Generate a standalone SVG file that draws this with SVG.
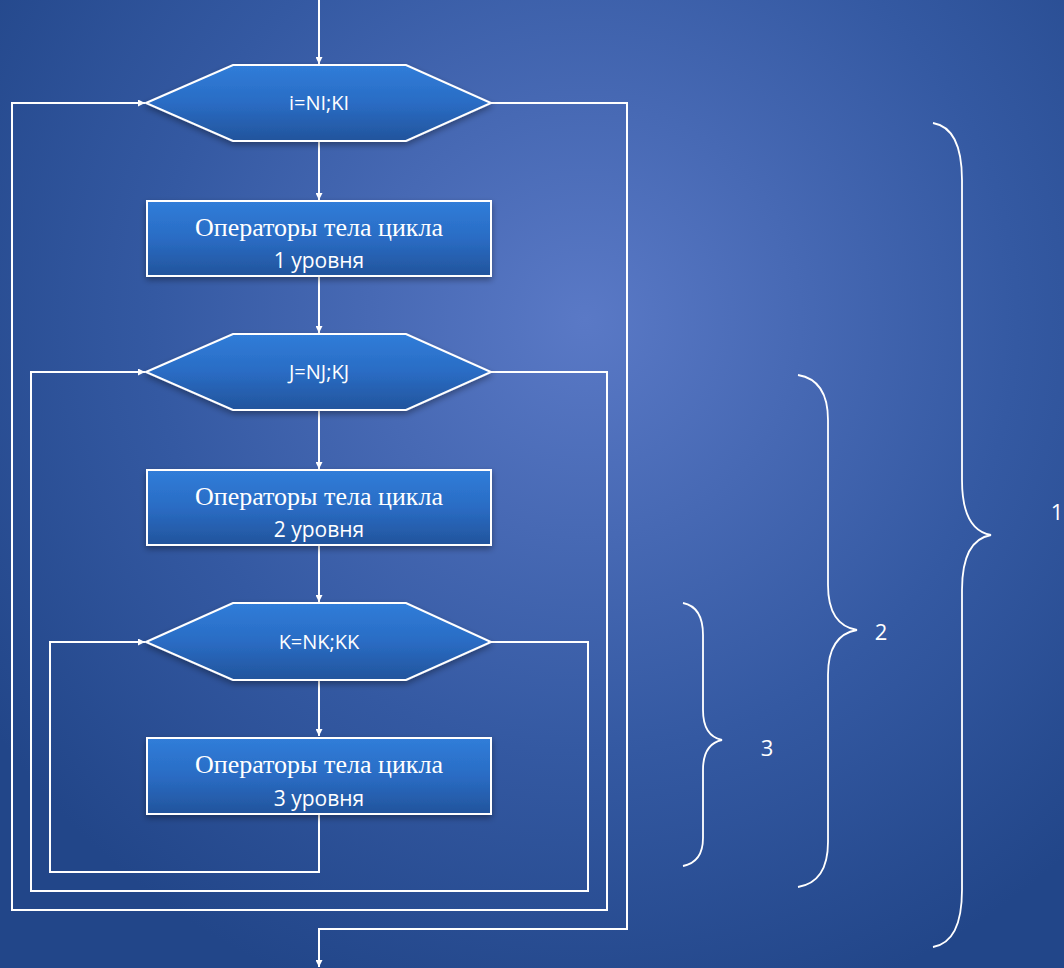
<svg xmlns="http://www.w3.org/2000/svg" width="1064" height="968" viewBox="0 0 1064 968">
<defs>
<radialGradient id="bg" cx="585" cy="320" r="720" gradientUnits="userSpaceOnUse">
<stop offset="0" stop-color="#5a79c6"/>
<stop offset="0.6" stop-color="#3459a2"/>
<stop offset="1" stop-color="#224689"/>
</radialGradient>
<linearGradient id="nf" x1="0" y1="0" x2="0" y2="1">
<stop offset="0" stop-color="#307dd9"/>
<stop offset="0.5" stop-color="#2a6cc4"/>
<stop offset="1" stop-color="#22549c"/>
</linearGradient>
<filter id="sh" x="-10%" y="-20%" width="120%" height="150%">
<feDropShadow dx="0" dy="3" stdDeviation="3" flood-color="#000" flood-opacity="0.35"/>
</filter>
<marker id="ah" viewBox="0 0 10 10" refX="10" refY="5" markerWidth="7" markerHeight="7" markerUnits="userSpaceOnUse" orient="auto">
<path d="M0,0 L10,5 L0,10 z" fill="#fff"/>
</marker>
</defs>
<style>
.n{fill:url(#nf);stroke:#fff;stroke-width:2;filter:url(#sh)}
.c{fill:none;stroke:#fff;stroke-width:2}
.a{marker-end:url(#ah)}
.ht{font-family:"Open Sans","Liberation Sans",sans-serif;font-size:20px;fill:#fff;text-anchor:middle}
.bt{font-family:"Liberation Serif",serif;font-size:26px;fill:#fff;text-anchor:middle}
.bt2{font-family:"Open Sans","Liberation Sans",sans-serif;font-size:21px;fill:#fff;text-anchor:middle}
.br{fill:none;stroke:#fff;stroke-width:1.8}
.lb{font-family:"Open Sans","Liberation Sans",sans-serif;font-size:22px;fill:#fff;text-anchor:middle}
</style>
<rect width="1064" height="968" fill="url(#bg)"/>
<g id="connectors">
<path class="c a" d="M319,0 V64"/>
<path class="c a" d="M319,142 V200"/>
<path class="c a" d="M319,277 V333"/>
<path class="c a" d="M319,411 V469"/>
<path class="c a" d="M319,546 V602"/>
<path class="c a" d="M319,681 V736"/>
<path class="c a" d="M319,815 V872 H50 V642 H145"/>
<path class="c a" d="M491,642 H588 V891 H31 V372 H145"/>
<path class="c a" d="M491,372 H607 V910 H12 V103 H145"/>
<path class="c a" d="M491,103 H627 V929 H319 V967"/>
</g>
<g id="hex1">
<polygon class="n" points="146,103 233,65 406,65 491,103 406,141 233,141"/>
<text class="ht" x="319" y="110">i=NI;KI</text>
</g>
<g id="box1">
<rect class="n" x="147" y="201" width="344" height="75"/>
<text class="bt" x="319" y="236">Операторы тела цикла</text>
<text class="bt2" x="319" y="268">1 уровня</text>
</g>
<g id="hex2">
<polygon class="n" points="146,372 233,334 406,334 491,372 406,410 233,410"/>
<text class="ht" x="319" y="379">J=NJ;KJ</text>
</g>
<g id="box2">
<rect class="n" x="147" y="470" width="344" height="75"/>
<text class="bt" x="319" y="505">Операторы тела цикла</text>
<text class="bt2" x="319" y="537">2 уровня</text>
</g>
<g id="hex3">
<polygon class="n" points="146,642 233,603 406,603 491,642 406,680 233,680"/>
<text class="ht" x="319" y="649">K=NK;KK</text>
</g>
<g id="box3">
<rect class="n" x="147" y="738" width="344" height="76"/>
<text class="bt" x="319" y="773">Операторы тела цикла</text>
<text class="bt2" x="319" y="806">3 уровня</text>
</g>
<g id="brace1">
<path class="br" d="M933,123 Q962,128 962,180 V480 Q962,530 991,535 Q962,540 962,590 V890 Q962,942 933,947"/>
<text class="lb" x="1057" y="520">1</text>
</g>
<g id="brace2">
<path class="br" d="M798,375 Q828,380 828,420 V585 Q828,625 857,630 Q828,635 828,675 V842 Q828,882 798,887"/>
<text class="lb" x="881" y="640">2</text>
</g>
<g id="brace3">
<path class="br" d="M683,603 Q703,607 703,635 V710 Q703,736 722,740 Q703,744 703,770 V838 Q703,862 683,866"/>
<text class="lb" x="767" y="756">3</text>
</g>
</svg>
